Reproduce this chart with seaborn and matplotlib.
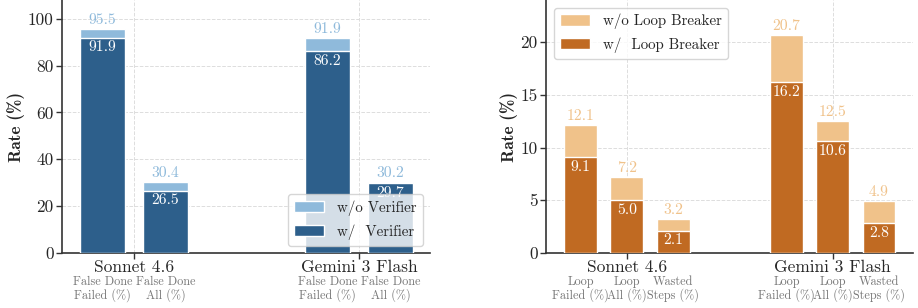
import numpy as np
import pandas as pd
import matplotlib
matplotlib.use("Agg")
import matplotlib.pyplot as plt
import seaborn as sns
from matplotlib.patches import Patch

# data
models = ["Sonnet 4.6", "Gemini 3 Flash"]

ver_metrics = ["False Done\nFailed (%)", "False Done\nAll (%)"]
ver_wo = [[95.5, 30.4], [91.9, 30.2]]
ver_w = [[91.9, 26.5], [86.2, 29.7]]

loop_metrics = ["Loop\nFailed (%)", "Loop\nAll (%)", "Wasted\nSteps (%)"]
loop_wo = [[12.1, 7.2, 3.2], [20.7, 12.5, 4.9]]
loop_w = [[9.1, 5.0, 2.1], [16.2, 10.6, 2.8]]

BLUE_L, BLUE_D = "#8fbadb", "#2d5f8b"
ORNG_L, ORNG_D = "#f0c28a", "#c06a22"

sns.set_style("whitegrid")
plt.rcParams["font.family"] = ["cmr10", "DejaVu Serif"]
plt.rcParams["mathtext.fontset"] = "cm"
plt.rcParams["axes.unicode_minus"] = False


def to_df(vals, metrics):
    rows = []
    for mi, m in enumerate(models):
        for ki, k in enumerate(metrics):
            rows.append({"model": m, "metric": k, "value": vals[mi][ki]})
    return pd.DataFrame(rows)


def panel(ax, wo, w, metrics, c_light, c_dark, total_w, ylim, yticks, xlim,
          leg_labels, leg_loc):
    n = len(metrics)
    df_wo = to_df(wo, metrics)
    df_w = to_df(w, metrics)
    # light bar = without, dark bar drawn over it = with
    sns.barplot(data=df_wo, x="model", y="value", hue="metric", ax=ax,
                palette=[c_light] * n, width=total_w, gap=0.29, saturation=1,
                edgecolor="white", linewidth=1.0, legend=False, zorder=2)
    sns.barplot(data=df_w, x="model", y="value", hue="metric", ax=ax,
                palette=[c_dark] * n, width=total_w, gap=0.29, saturation=1,
                edgecolor="white", linewidth=1.0, legend=False, zorder=3)

    slot = total_w / n
    offsets = [(-total_w / 2 + slot * (i + 0.5)) for i in range(n)]
    for mi in range(len(models)):
        for ki in range(n):
            x = mi + offsets[ki]
            ax.annotate(f"{wo[mi][ki]:.1f}", (x, wo[mi][ki]), xytext=(0, 1.5),
                        textcoords="offset points", ha="center", va="bottom",
                        fontsize=11.3, color=c_light, zorder=4)
            ax.annotate(f"{w[mi][ki]:.1f}", (x, w[mi][ki]), xytext=(0, -2),
                        textcoords="offset points", ha="center", va="top",
                        fontsize=11.3, color="white", zorder=4)
            ax.annotate(metrics[ki], (x, 0), xycoords=("data", "axes fraction"),
                        xytext=(0, -16.5), textcoords="offset points",
                        ha="center", va="top", fontsize=8.8, color="#777777",
                        linespacing=1.05, annotation_clip=False)

    ax.set_xlim(*xlim)
    ax.set_ylim(*ylim)
    ax.set_yticks(yticks)
    ax.set_xlabel("")
    ax.set_ylabel("Rate (%)", fontsize=12.5, fontweight="bold",
                  family=["cmb10", "DejaVu Serif"], labelpad=2)
    ax.tick_params(axis="y", labelsize=12.5, length=4, width=1, direction="out",
                   color="#333333", pad=2, left=True)
    ax.tick_params(axis="x", labelsize=12.5, length=4, width=1, direction="out",
                   color="#333333", pad=1, bottom=True)
    ax.grid(True, linestyle="--", linewidth=0.7, color="#dddddd")
    ax.set_axisbelow(True)
    for s in ["top", "right"]:
        ax.spines[s].set_visible(False)
    for s in ["left", "bottom"]:
        ax.spines[s].set_color("#333333")
        ax.spines[s].set_linewidth(1.2)

    handles = [Patch(facecolor=c_light, edgecolor="white"),
               Patch(facecolor=c_dark, edgecolor="white")]
    leg = ax.legend(handles, leg_labels, loc=leg_loc, fontsize=10.8,
                    frameon=True, framealpha=0.8, handlelength=2.0,
                    handleheight=0.8, handletextpad=0.9, borderpad=0.4,
                    labelspacing=0.55)
    leg.set_zorder(10)


fig, axes = plt.subplots(1, 2, figsize=(9.18, 3.08), dpi=100)

panel(axes[0], ver_wo, ver_w, ver_metrics, BLUE_L, BLUE_D, 0.56,
      (0, 108), [0, 20, 40, 60, 80, 100], (-0.32, 1.316),
      ["w/o Verifier", "w/  Verifier"], "lower right")
panel(axes[1], loop_wo, loop_w, loop_metrics, ORNG_L, ORNG_D, 0.675,
      (0, 24), [0, 5, 10, 15, 20], (-0.393, 1.39),
      ["w/o Loop Breaker", "w/  Loop Breaker"], "upper left")

W, H = 918, 308
bottom = (H - 253) / H
axes[0].set_position([62 / W, bottom, (430 - 62) / W, 1 - bottom])
axes[1].set_position([546 / W, bottom, (913 - 546) / W, 1 - bottom])
fig.savefig("out.png", dpi=100)
